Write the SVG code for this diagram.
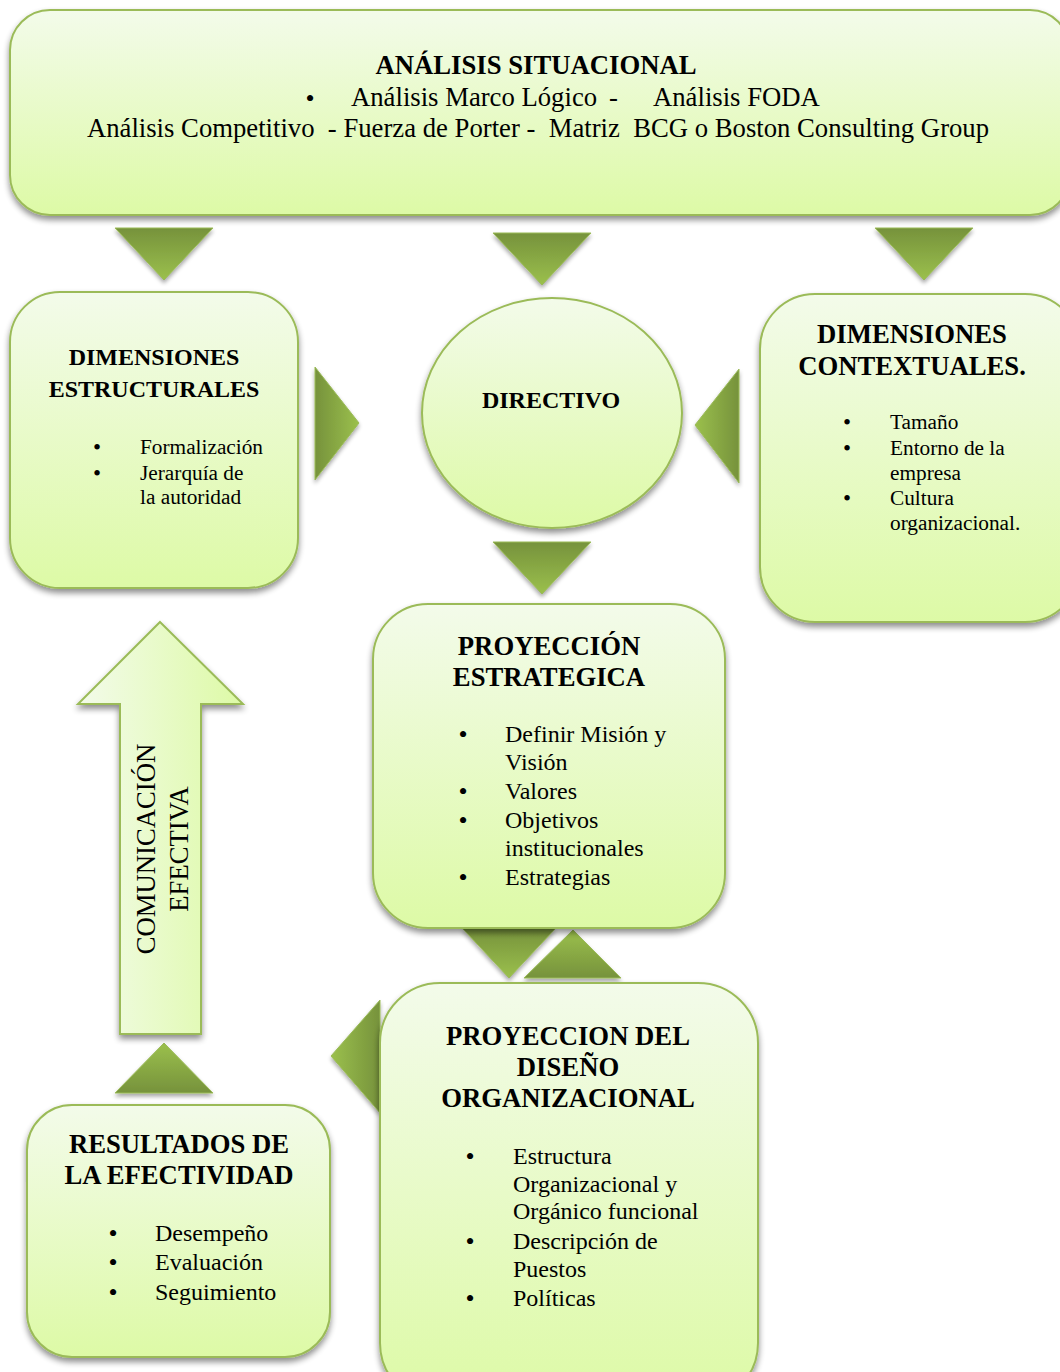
<svg xmlns="http://www.w3.org/2000/svg" width="1060" height="1372" viewBox="0 0 1060 1372">
<style>
.box{fill:url(#boxg);stroke:#9bbb59;stroke-width:2;filter:url(#sh)}
.tri{stroke:#9bbb59;stroke-width:1;filter:url(#sh2)}
.t{font-family:"Liberation Serif","Times New Roman",serif;fill:#000}
.b{font-weight:bold}
.c{text-anchor:middle}
.bul{font-family:"Liberation Serif","Times New Roman",serif;fill:#000;text-anchor:middle;font-size:26px}
.bs{font-size:23px}
.f21{font-size:21.3px}
.f24{font-size:24px}
.f27{font-size:26.7px}
</style>
<defs>
<linearGradient id="boxg" x1="0" y1="0" x2="0" y2="1">
<stop offset="0" stop-color="#f3fbea"/>
<stop offset="1" stop-color="#ddfaa6"/>
</linearGradient>
<linearGradient id="tdown" x1="0" y1="0" x2="0" y2="1">
<stop offset="0" stop-color="#76923c"/>
<stop offset="1" stop-color="#9bc04c"/>
</linearGradient>
<linearGradient id="tup" x1="0" y1="0" x2="0" y2="1">
<stop offset="0" stop-color="#9bc04c"/>
<stop offset="1" stop-color="#76923c"/>
</linearGradient>
<linearGradient id="tright" x1="0" y1="0" x2="1" y2="0">
<stop offset="0" stop-color="#76923c"/>
<stop offset="1" stop-color="#9bc04c"/>
</linearGradient>
<linearGradient id="tleft" x1="0" y1="0" x2="1" y2="0">
<stop offset="0" stop-color="#9bc04c"/>
<stop offset="1" stop-color="#76923c"/>
</linearGradient>
<linearGradient id="arrg" x1="0" y1="0" x2="1" y2="0">
<stop offset="0" stop-color="#f3fbea"/>
<stop offset="1" stop-color="#ddfaa6"/>
</linearGradient>
<filter id="sh" x="-10%" y="-10%" width="120%" height="125%">
<feGaussianBlur in="SourceAlpha" stdDeviation="3"/>
<feOffset dx="0" dy="4" result="o"/>
<feComponentTransfer><feFuncA type="linear" slope="0.45"/></feComponentTransfer>
<feMerge><feMergeNode/><feMergeNode in="SourceGraphic"/></feMerge>
</filter>
<filter id="sh2" x="-20%" y="-20%" width="140%" height="150%">
<feGaussianBlur in="SourceAlpha" stdDeviation="2"/>
<feOffset dx="0" dy="3" result="o"/>
<feComponentTransfer><feFuncA type="linear" slope="0.35"/></feComponentTransfer>
<feMerge><feMergeNode/><feMergeNode in="SourceGraphic"/></feMerge>
</filter>
</defs>
<rect width="1060" height="1372" fill="#ffffff"/>

<g id="connectors">
<polygon class="tri" fill="url(#tdown)" points="115,228 213,228 164,280"/>
<polygon class="tri" fill="url(#tdown)" points="493,233 591,233 542,285"/>
<polygon class="tri" fill="url(#tdown)" points="875,228 973,228 924,280"/>
<polygon class="tri" fill="url(#tright)" points="315,367 315,480 359,423"/>
<polygon class="tri" fill="url(#tleft)" points="739,369 739,483 695,425"/>
<polygon class="tri" fill="url(#tdown)" points="493,542 591,542 542,594"/>
<polygon class="tri" fill="url(#tdown)" points="462,928 556,928 509,978"/>
<polygon class="tri" fill="url(#tup)" points="524,978 621,978 573,930"/>
<polygon class="tri" fill="url(#tleft)" points="380,1000 380,1113 331,1056"/>
<polygon class="tri" fill="url(#tup)" points="115,1093 213,1093 164,1043"/>
</g>

<g id="analisis">
<rect class="box" x="10" y="10" width="1060" height="205" rx="40"/>
<text class="t b c f27" x="536" y="74">ANÁLISIS SITUACIONAL</text>
<text class="bul" x="310" y="107">•</text>
<text class="t f27" x="351" y="106">Análisis Marco Lógico</text>
<text class="t f27" x="609" y="106">-</text>
<text class="t f27" x="653" y="106">Análisis FODA</text>
<text class="t c f27" x="538" y="137" xml:space="preserve">Análisis Competitivo  - Fuerza de Porter -  Matriz  BCG o Boston Consulting Group</text>
</g>

<g id="estructurales">
<rect class="box" x="10" y="292" width="288" height="296" rx="50"/>
<text class="t b c f24" x="154" y="365">DIMENSIONES</text>
<text class="t b c f24" x="154" y="397">ESTRUCTURALES</text>
<text class="bul bs" x="97" y="455">•</text>
<text class="t f21" x="140" y="454">Formalización</text>
<text class="bul bs" x="97" y="481">•</text>
<text class="t f21" x="140" y="480">Jerarquía de</text>
<text class="t f21" x="140" y="504">la autoridad</text>
</g>

<g id="directivo">
<ellipse class="box" cx="552" cy="413" rx="130" ry="115"/>
<text class="t b c f24" x="551" y="408">DIRECTIVO</text>
</g>

<g id="contextuales">
<rect class="box" x="760" y="294" width="320" height="328" rx="55"/>
<text class="t b c f27" x="912" y="343">DIMENSIONES</text>
<text class="t b c f27" x="912" y="375">CONTEXTUALES.</text>
<text class="bul bs" x="847" y="430">•</text>
<text class="t f21" x="890" y="429">Tamaño</text>
<text class="bul bs" x="847" y="456">•</text>
<text class="t f21" x="890" y="455">Entorno de la</text>
<text class="t f21" x="890" y="480">empresa</text>
<text class="bul bs" x="847" y="506">•</text>
<text class="t f21" x="890" y="505">Cultura</text>
<text class="t f21" x="890" y="530">organizacional.</text>
</g>

<g id="estrategica">
<rect class="box" x="373" y="604" width="352" height="324" rx="55"/>
<text class="t b c f27" x="549" y="655">PROYECCIÓN</text>
<text class="t b c f27" x="549" y="686">ESTRATEGICA</text>
<text class="bul" x="463" y="743">•</text>
<text class="t f24" x="505" y="742">Definir Misión y</text>
<text class="t f24" x="505" y="770">Visión</text>
<text class="bul" x="463" y="800">•</text>
<text class="t f24" x="505" y="799">Valores</text>
<text class="bul" x="463" y="829">•</text>
<text class="t f24" x="505" y="828">Objetivos</text>
<text class="t f24" x="505" y="856">institucionales</text>
<text class="bul" x="463" y="886">•</text>
<text class="t f24" x="505" y="885">Estrategias</text>
</g>

<g id="diseno">
<rect class="box" x="380" y="983" width="378" height="420" rx="60"/>
<text class="t b c f27" x="568" y="1045">PROYECCION DEL</text>
<text class="t b c f27" x="568" y="1076">DISEÑO</text>
<text class="t b c f27" x="568" y="1107">ORGANIZACIONAL</text>
<text class="bul" x="470" y="1165">•</text>
<text class="t f24" x="513" y="1164">Estructura</text>
<text class="t f24" x="513" y="1192">Organizacional y</text>
<text class="t f24" x="513" y="1219">Orgánico funcional</text>
<text class="bul" x="470" y="1250">•</text>
<text class="t f24" x="513" y="1249">Descripción de</text>
<text class="t f24" x="513" y="1277">Puestos</text>
<text class="bul" x="470" y="1307">•</text>
<text class="t f24" x="513" y="1306">Políticas</text>
</g>

<g id="comunicacion">
<polygon fill="url(#arrg)" stroke="#9bbb59" stroke-width="2" filter="url(#sh)" points="160,622 243,704 201,704 201,1034 120,1034 120,704 78,704"/>
<text class="t c f27" transform="translate(155,849) rotate(-90)">COMUNICACIÓN</text>
<text class="t c f27" transform="translate(188,849) rotate(-90)">EFECTIVA</text>
</g>

<g id="resultados">
<rect class="box" x="27" y="1105" width="303" height="252" rx="45"/>
<text class="t b c f27" x="179" y="1153">RESULTADOS DE</text>
<text class="t b c f27" x="179" y="1184">LA EFECTIVIDAD</text>
<text class="bul" x="113" y="1242">•</text>
<text class="t f24" x="155" y="1241">Desempeño</text>
<text class="bul" x="113" y="1271">•</text>
<text class="t f24" x="155" y="1270">Evaluación</text>
<text class="bul" x="113" y="1301">•</text>
<text class="t f24" x="155" y="1300">Seguimiento</text>
</g>
</svg>
